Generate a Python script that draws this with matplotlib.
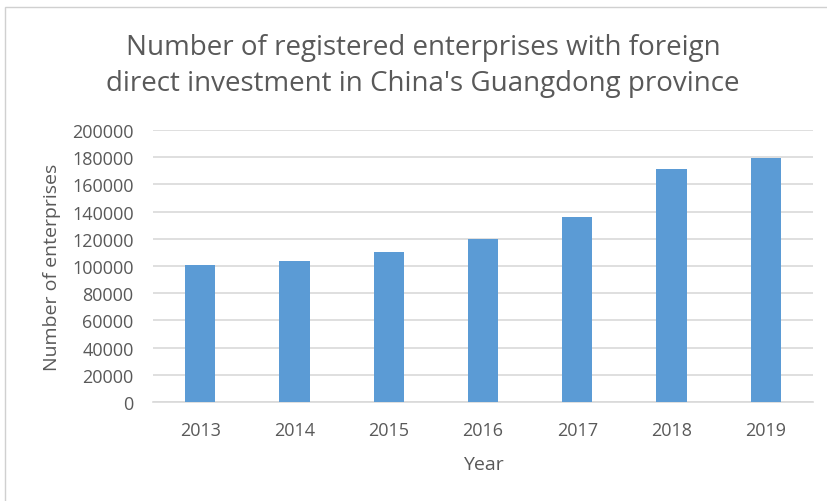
import matplotlib
matplotlib.use("Agg")
import matplotlib.pyplot as plt
from matplotlib.patches import Rectangle

# registered FDI enterprises, Guangdong
years = ["2013", "2014", "2015", "2016", "2017", "2018", "2019"]
enterprises = [100600, 104000, 110500, 119800, 136000, 171200, 179300]
y_ticks = [0, 20000, 40000, 60000, 80000, 100000, 120000, 140000, 160000, 180000, 200000]

plt.rcParams["font.family"] = ["Open Sans", "DejaVu Sans"]
TXT = "#595959"
GRID = "#d9d9d9"
BAR = "#5b9bd5"

W, H = 828, 502
fig = plt.figure(figsize=(W / 100, H / 100), dpi=100, facecolor="white")

# chart frame
fig.patches.append(Rectangle((5 / W, -0.01), 1.0, 1 - 8 / H + 0.01,
                             transform=fig.transFigure, fill=False,
                             edgecolor="#d0d0d0", linewidth=1.0))

ax = fig.add_axes([153 / W, 1 - 403 / H, 660 / W, 272 / H])
x = range(len(years))
ax.bar(x, enterprises, width=0.32, color=BAR, zorder=3)

ax.set_xlim(-0.5, len(years) - 0.5)
ax.set_ylim(0, 200000)
ax.set_yticks(y_ticks)
ax.set_yticklabels([str(v) for v in y_ticks])
ax.set_xticks(list(x))
ax.set_xticklabels(years)
ax.tick_params(axis="both", length=0, colors=TXT, labelsize=13)
ax.tick_params(axis="y", pad=14)
ax.tick_params(axis="x", pad=14)
ax.grid(axis="y", color=GRID, linewidth=1.2, zorder=0)
for side in ["top", "right", "left"]:
    ax.spines[side].set_visible(False)
ax.spines["bottom"].set_color(GRID)
ax.spines["bottom"].set_linewidth(1.2)

ax.set_ylabel("Number of enterprises", color=TXT, fontsize=14, labelpad=8)
ax.set_xlabel("Year", color=TXT, fontsize=14, labelpad=11)

fig.text(423 / W, 1 - 66 / H,
         "Number of registered enterprises with foreign\n"
         "direct investment in China's Guangdong province",
         ha="center", va="center", color=TXT, fontsize=20, linespacing=1.42)

fig.savefig("out.png", dpi=100, facecolor=fig.get_facecolor())
